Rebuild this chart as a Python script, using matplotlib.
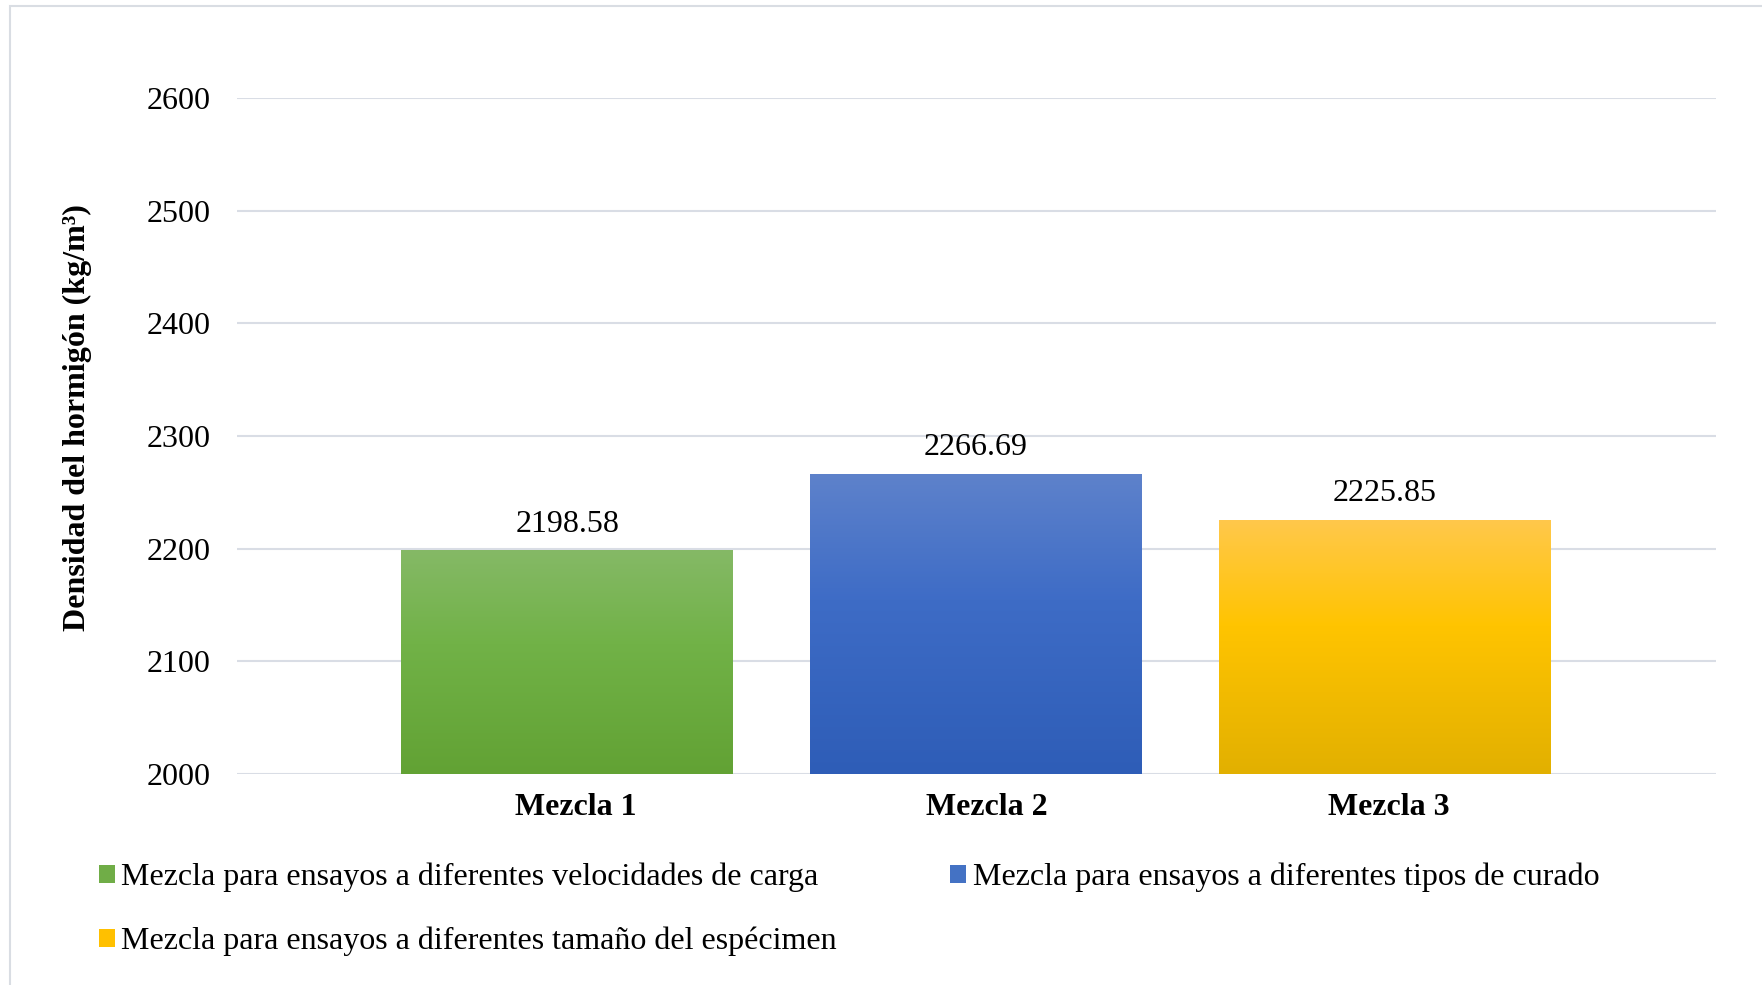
import numpy as np
import matplotlib
matplotlib.use("Agg")
import matplotlib.pyplot as plt
from matplotlib.colors import LinearSegmentedColormap
from matplotlib.patches import Patch, Rectangle
from matplotlib.transforms import ScaledTranslation

# Data
categories = ["Mezcla 1", "Mezcla 2", "Mezcla 3"]
densities = [2198.58, 2266.69, 2225.85]
series_names = [
    "Mezcla para ensayos a diferentes velocidades de carga",
    "Mezcla para ensayos a diferentes tipos de curado",
    "Mezcla para ensayos a diferentes tamaño del espécimen",
]
y_ticks = [2000, 2100, 2200, 2300, 2400, 2500, 2600]

# Gradient stops per bar: bottom, middle, top
gradients = [
    ("#62A234", "#71B247", "#85B966"),
    ("#2E5DB7", "#3E6CC6", "#5E82CB"),
    ("#E2B000", "#FFC400", "#FFC84C"),
]
base_colors = ["#70AD47", "#4472C4", "#FFC000"]

plt.rcParams["font.family"] = ["Liberation Serif", "DejaVu Serif"]

W, H = 1762, 985
fig = plt.figure(figsize=(W / 100, H / 100), dpi=100)
fig.patch.set_facecolor("white")

# Chart-area frame (top and left edges)
fig.add_artist(Rectangle((9.5 / W, -0.1), 2.0, (H - 5.5) / H + 0.1,
                         transform=fig.transFigure, fill=False,
                         edgecolor="#D9DDE3", linewidth=1.5))

ax = fig.add_axes([237 / W, (H - 774) / H, (1716 - 237) / W, (774 - 98) / H])

x = np.arange(len(categories))
bar_w = 0.81
bars = ax.bar(x, densities, width=bar_w, color=base_colors, zorder=2, linewidth=0)

ymin, ymax = y_ticks[0], y_ticks[-1]
grad = np.linspace(0, 1, 256).reshape(-1, 1)
for bar, (c0, c1, c2) in zip(bars, gradients):
    cmap = LinearSegmentedColormap.from_list("g", [(0, c0), (0.58, c1), (1, c2)])
    x0 = bar.get_x()
    top = bar.get_height()
    im = ax.imshow(grad, extent=[x0, x0 + bar.get_width(), ymin, top],
                   origin="lower", cmap=cmap, aspect="auto", zorder=2.5,
                   interpolation="bilinear")
    im.set_clip_path(bar)

for xi, v in zip(x, densities):
    ax.annotate(f"{v:.2f}", (xi, v), xytext=(0, 13), textcoords="offset points",
                ha="center", va="baseline", fontsize=23, color="black")

ax.set_xlim(-0.807, 2.809)
ax.set_ylim(ymin, ymax)
ax.set_yticks(y_ticks)
ax.set_xticks(x)
ax.set_xticklabels(categories, fontsize=23, fontweight="bold")
ax.tick_params(axis="y", labelsize=23, length=0, pad=19)
ax.tick_params(axis="x", length=0, pad=13.5)
# category labels sit slightly right of the bar centres
for lbl, dx in zip(ax.get_xticklabels(), [9, 11, 4]):
    lbl.set_transform(lbl.get_transform() + ScaledTranslation(dx / 100, 0, fig.dpi_scale_trans))
ax.grid(axis="y", color="#D9DDE5", linewidth=1.5, zorder=0)
ax.set_axisbelow(True)
for s in ax.spines.values():
    s.set_visible(False)

ax.set_ylabel("Densidad del hormigón (kg/m³)", fontsize=23, fontweight="bold", va="center")
ax.yaxis.set_label_coords(-0.108, 0.528)

handles = [Patch(facecolor=c, edgecolor="none") for c in base_colors]
order = [0, 2, 1]
fig.legend([handles[i] for i in order], [series_names[i] for i in order],
           loc="upper left", bbox_to_anchor=(99 / W, (H - 863) / H),
           ncol=2, frameon=False, fontsize=23,
           handlelength=0.5, handleheight=0.5, handletextpad=0.2,
           columnspacing=3.55, labelspacing=1.08, borderaxespad=0, borderpad=0)

fig.savefig("out.png", dpi=100, facecolor="white")
